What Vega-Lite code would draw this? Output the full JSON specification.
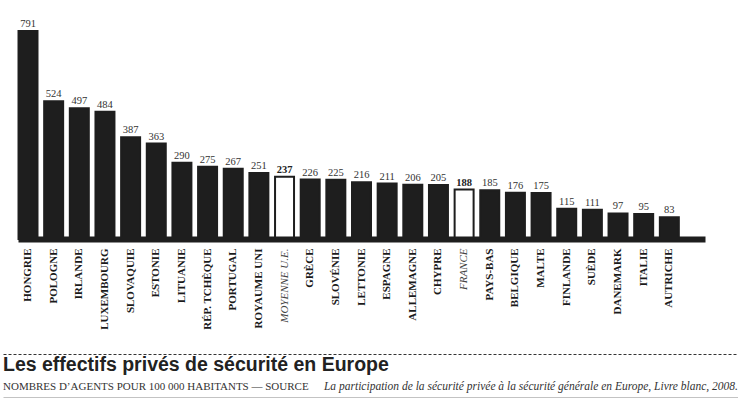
{
  "$schema": "https://vega.github.io/schema/vega-lite/v6.json",
  "background": "white",
  "padding": {"left": 3, "top": 10, "right": 0, "bottom": 0},
  "spacing": 24,
  "config": {"view": {"stroke": null}},
  "vconcat": [
    {
      "width": 702,
      "height": 229,
      "data": {
        "values": [
          {"pays": "HONGRIE", "valeur": 791, "type": "pays"},
          {"pays": "POLOGNE", "valeur": 524, "type": "pays"},
          {"pays": "IRLANDE", "valeur": 497, "type": "pays"},
          {"pays": "LUXEMBOURG", "valeur": 484, "type": "pays"},
          {"pays": "SLOVAQUIE", "valeur": 387, "type": "pays"},
          {"pays": "ESTONIE", "valeur": 363, "type": "pays"},
          {"pays": "LITUANIE", "valeur": 290, "type": "pays"},
          {"pays": "RÉP. TCHÈQUE", "valeur": 275, "type": "pays"},
          {"pays": "PORTUGAL", "valeur": 267, "type": "pays"},
          {"pays": "ROYAUME UNI", "valeur": 251, "type": "pays"},
          {"pays": "MOYENNE U.E.", "valeur": 237, "type": "repere"},
          {"pays": "GRÈCE", "valeur": 226, "type": "pays"},
          {"pays": "SLOVÉNIE", "valeur": 225, "type": "pays"},
          {"pays": "LETTONIE", "valeur": 216, "type": "pays"},
          {"pays": "ESPAGNE", "valeur": 211, "type": "pays"},
          {"pays": "ALLEMAGNE", "valeur": 206, "type": "pays"},
          {"pays": "CHYPRE", "valeur": 205, "type": "pays"},
          {"pays": "FRANCE", "valeur": 188, "type": "repere"},
          {"pays": "PAYS-BAS", "valeur": 185, "type": "pays"},
          {"pays": "BELGIQUE", "valeur": 176, "type": "pays"},
          {"pays": "MALTE", "valeur": 175, "type": "pays"},
          {"pays": "FINLANDE", "valeur": 115, "type": "pays"},
          {"pays": "SUÈDE", "valeur": 111, "type": "pays"},
          {"pays": "DANEMARK", "valeur": 97, "type": "pays"},
          {"pays": "ITALIE", "valeur": 95, "type": "pays"},
          {"pays": "AUTRICHE", "valeur": 83, "type": "pays"}
        ]
      },
      "encoding": {
        "x": {
          "field": "pays",
          "type": "nominal",
          "sort": null,
          "scale": {
            "domain": ["HONGRIE", "POLOGNE", "IRLANDE", "LUXEMBOURG", "SLOVAQUIE", "ESTONIE", "LITUANIE", "RÉP. TCHÈQUE", "PORTUGAL", "ROYAUME UNI", "MOYENNE U.E.", "GRÈCE", "SLOVÉNIE", "LETTONIE", "ESPAGNE", "ALLEMAGNE", "CHYPRE", "FRANCE", "PAYS-BAS", "BELGIQUE", "MALTE", "FINLANDE", "SUÈDE", "DANEMARK", "ITALIE", "AUTRICHE", " "],
            "rangeMin": 15,
            "paddingInner": 0.26,
            "paddingOuter": 0.02
          },
          "axis": {
            "title": null,
            "labelAngle": 270,
            "labelFont": "Liberation Serif",
            "labelFontSize": 11,
            "labelFontWeight": {"condition": {"test": "datum.value === 'MOYENNE U.E.' || datum.value === 'FRANCE'", "value": "normal"}, "value": "bold"},
            "labelFontStyle": {"condition": {"test": "datum.value === 'MOYENNE U.E.' || datum.value === 'FRANCE'", "value": "italic"}, "value": "normal"},
            "labelColor": {"condition": {"test": "datum.value === 'MOYENNE U.E.' || datum.value === 'FRANCE'", "value": "#444444"}, "value": "#1a1a1a"},
            "labelPadding": 9,
            "labelOverlap": false,
            "labelBound": false,
            "ticks": false,
            "tickSize": 0,
            "grid": false,
            "domainColor": "#1e1e1e",
            "domainWidth": 6,
            "domainCap": "butt",
            "minExtent": 85,
            "zindex": 1
          }
        },
        "y": {
          "field": "valeur",
          "type": "quantitative",
          "scale": {"domain": [0, 871], "nice": false},
          "axis": null
        }
      },
      "layer": [
        {
          "mark": {"type": "bar", "stroke": "#1e1e1e", "strokeWidth": 2},
          "encoding": {
            "fill": {
              "field": "type",
              "type": "nominal",
              "scale": {"domain": ["pays", "repere"], "range": ["#1e1e1e", "#ffffff"]},
              "legend": null
            }
          }
        },
        {
          "transform": [{"filter": "datum.type === 'pays'"}],
          "mark": {"type": "text", "baseline": "alphabetic", "dy": -4, "font": "Liberation Serif", "fontSize": 10.5, "color": "#333333"},
          "encoding": {"text": {"field": "valeur", "type": "quantitative"}}
        },
        {
          "transform": [{"filter": "datum.type === 'repere'"}],
          "mark": {"type": "text", "baseline": "alphabetic", "dy": -4, "font": "Liberation Serif", "fontSize": 10.5, "fontWeight": "bold", "color": "#222222"},
          "encoding": {"text": {"field": "valeur", "type": "quantitative"}}
        }
      ]
    },
    {
      "width": 735,
      "height": 44,
      "data": {
        "values": [
          {"ligne": "titre", "partie": "titre", "texte": "Les effectifs privés de sécurité en Europe"},
          {"ligne": "source", "partie": "gauche", "texte": "NOMBRES D’AGENTS POUR 100 000 HABITANTS — SOURCE"},
          {"ligne": "source", "partie": "droite", "texte": "La participation de la sécurité privée à la sécurité générale en Europe, Livre blanc, 2008."}
        ]
      },
      "encoding": {
        "y": {
          "field": "ligne",
          "type": "nominal",
          "scale": {"type": "point", "domain": ["titre", "source"], "padding": 0.5},
          "axis": null
        }
      },
      "layer": [
        {
          "transform": [{"filter": "datum.partie === 'titre'"}],
          "mark": {"type": "text", "align": "left", "baseline": "middle", "font": "Liberation Sans", "fontSize": 19.5, "fontWeight": "bold", "color": "#222222"},
          "encoding": {
            "x": {
              "datum": 0,
              "type": "quantitative",
              "scale": {"domain": [0, 1], "nice": false},
              "axis": {"orient": "top", "title": null, "labels": false, "ticks": false, "grid": false, "domainDash": [3, 2], "domainColor": "#333333", "domainWidth": 1}
            },
            "text": {"field": "texte"}
          }
        },
        {
          "transform": [{"filter": "datum.partie === 'gauche'"}],
          "mark": {"type": "text", "align": "left", "baseline": "middle", "font": "Liberation Serif", "fontSize": 11, "color": "#333333"},
          "encoding": {
            "x": {
              "datum": 0,
              "type": "quantitative",
              "axis": {"orient": "bottom", "title": null, "labels": false, "ticks": false, "grid": false, "domainColor": "#111111", "domainWidth": 1.5}
            },
            "text": {"field": "texte"}
          }
        },
        {
          "transform": [{"filter": "datum.partie === 'droite'"}],
          "mark": {"type": "text", "align": "right", "baseline": "middle", "font": "Liberation Serif", "fontSize": 11.5, "fontStyle": "italic", "color": "#333333"},
          "encoding": {
            "x": {"datum": 1, "type": "quantitative", "axis": null},
            "text": {"field": "texte"}
          }
        }
      ],
      "resolve": {"axis": {"x": "independent"}}
    }
  ]
}
